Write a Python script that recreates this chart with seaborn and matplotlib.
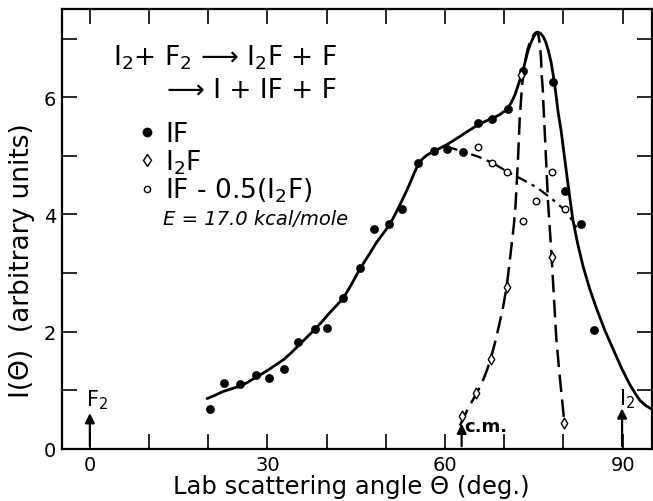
import matplotlib
matplotlib.use("Agg")
import matplotlib.pyplot as plt
from matplotlib.lines import Line2D
import pandas as pd
import seaborn as sns

# measured points (lab angle in deg, signal in arbitrary units)
if_angle = [20.3, 22.7, 25.3, 28.0, 30.3, 32.8, 35.2, 38.0, 40.1, 42.8, 45.6, 48.0, 50.6,
            52.7, 55.5, 58.2, 60.3, 63.1, 65.6, 68.0, 70.6, 73.2, 78.2, 80.3, 83.0, 85.1]
if_signal = [0.69, 1.12, 1.11, 1.26, 1.21, 1.37, 1.83, 2.04, 2.06, 2.57, 3.08, 3.75, 3.83,
             4.10, 4.88, 5.08, 5.11, 5.07, 5.56, 5.63, 5.80, 6.45, 6.26, 4.40, 3.83, 2.03]

i2f_angle = [62.8, 65.3, 67.7, 70.4, 72.9, 78.0, 80.1]
i2f_signal = [0.56, 0.95, 1.54, 2.77, 6.37, 3.28, 0.45]

diff_angle = [65.5, 68.0, 70.5, 73.1, 75.3, 78.1, 80.3]
diff_signal = [5.15, 4.88, 4.72, 3.88, 4.23, 4.72, 4.10]

# hand-drawn fit curves
if_fit_angle = [19.8, 21.0, 22.5, 24.0, 25.3, 26.7, 28.0, 29.2, 30.3, 31.5, 32.8, 34.0, 35.2,
                36.6, 38.0, 39.2, 40.3, 41.5, 42.8, 44.2, 45.6, 47.0, 48.4, 49.5, 50.6, 51.5,
                52.4, 53.3, 54.1, 54.8, 55.5, 56.2, 56.9, 57.6, 58.3, 59.3, 60.3, 61.4, 62.5,
                64.0, 65.6, 66.8, 68.0, 69.2, 70.4, 71.2, 71.8, 72.3, 72.8, 73.2, 73.6, 74.0,
                74.5, 74.9, 75.3, 75.6, 76.1, 76.6, 77.0, 77.4, 77.9, 78.3, 78.7, 79.1, 79.6,
                80.0, 80.4, 80.8, 81.2, 81.6, 82.4, 83.3, 84.4, 85.6, 87.0, 88.4, 89.8, 91.2,
                92.1, 92.9, 93.9, 94.9]
if_fit_signal = [0.86, 0.91, 0.98, 1.03, 1.07, 1.14, 1.22, 1.29, 1.36, 1.44, 1.53, 1.64, 1.76,
                 1.90, 2.04, 2.17, 2.30, 2.43, 2.57, 2.81, 3.07, 3.29, 3.52, 3.67, 3.82, 3.99,
                 4.17, 4.36, 4.54, 4.71, 4.86, 4.95, 5.01, 5.05, 5.08, 5.14, 5.19, 5.26, 5.33,
                 5.43, 5.53, 5.59, 5.64, 5.70, 5.79, 5.91, 6.04, 6.19, 6.34, 6.47, 6.63, 6.79,
                 6.93, 7.02, 7.08, 7.11, 7.09, 7.03, 6.94, 6.81, 6.60, 6.36, 6.07, 5.74, 5.43,
                 5.11, 4.80, 4.49, 4.19, 3.90, 3.50, 3.12, 2.74, 2.39, 2.02, 1.70, 1.38, 1.10,
                 0.95, 0.83, 0.74, 0.68]

i2f_fit_angle = [62.5, 63.2, 63.8, 64.6, 65.3, 66.0, 66.6, 67.2, 67.7, 68.4, 69.1, 69.8, 70.4,
                 70.8, 71.2, 71.6, 71.9, 72.3, 72.6, 73.0, 73.5, 73.9, 74.3, 74.7, 75.0, 75.3,
                 75.6, 75.8, 76.0, 76.2, 76.3, 76.5, 76.6, 76.8, 77.0, 77.2, 77.4, 77.7, 78.0,
                 78.4, 78.8, 79.2, 79.5, 79.8, 80.1]
i2f_fit_signal = [0.40, 0.54, 0.68, 0.82, 0.95, 1.08, 1.22, 1.38, 1.54, 1.80, 2.10, 2.42, 2.77,
                  3.10, 3.45, 3.80, 4.15, 4.90, 5.62, 6.20, 6.59, 6.80, 6.93, 7.02, 7.07, 7.10,
                  7.11, 7.04, 6.90, 6.68, 6.40, 6.14, 5.90, 5.48, 5.05, 4.62, 4.20, 3.74, 3.28,
                  2.56, 1.87, 1.42, 1.10, 0.80, 0.50]

diff_fit_angle = [60.3, 63.0, 65.5, 68.0, 70.5, 73.0, 75.5, 78.0, 80.5, 82.2]
diff_fit_signal = [5.16, 5.07, 4.99, 4.88, 4.73, 4.60, 4.46, 4.27, 4.05, 3.78]

x_ticks = list(range(0, 100, 10))
x_labels = ["0", "", "", "30", "", "", "60", "", "", "90"]
y_ticks = list(range(0, 8))
y_labels = ["0", "", "2", "", "4", "", "6", ""]

df_if = pd.DataFrame({"angle": if_angle, "signal": if_signal})
df_i2f = pd.DataFrame({"angle": i2f_angle, "signal": i2f_signal})
df_diff = pd.DataFrame({"angle": diff_angle, "signal": diff_signal})

sns.set_style("ticks", {"axes.edgecolor": "black", "text.color": "black",
                        "axes.labelcolor": "black", "xtick.color": "black",
                        "ytick.color": "black"})
plt.rcParams["font.family"] = ["DejaVu Sans"]

fig = plt.figure(figsize=(6.53, 5.02), dpi=100)
ax = fig.add_axes([0.095, 0.1036, 0.903, 0.876])

# fitted curves
sns.lineplot(x=if_fit_angle, y=if_fit_signal, sort=False, estimator=None,
             color="black", lw=2.0, ax=ax)
sns.lineplot(x=i2f_fit_angle, y=i2f_fit_signal, sort=False, estimator=None,
             color="black", lw=1.8, linestyle=(0, (7, 3)), ax=ax)
sns.lineplot(x=diff_fit_angle, y=diff_fit_signal, sort=False, estimator=None,
             color="black", lw=1.6, linestyle=(0, (5, 2.5, 1.5, 2.5)), ax=ax)

# data points
sns.scatterplot(data=df_if, x="angle", y="signal", marker="o", s=34,
                color="black", edgecolor="black", ax=ax, zorder=5)
sns.scatterplot(data=df_i2f, x="angle", y="signal", marker="d", s=30,
                color="white", edgecolor="black", linewidth=1.0, ax=ax, zorder=5)
sns.scatterplot(data=df_diff, x="angle", y="signal", marker="o", s=22,
                color="white", edgecolor="black", linewidth=1.0, ax=ax, zorder=5)

ax.set_xlim(-4.7, 94.9)
ax.set_ylim(0, 7.5)
ax.set_xticks(x_ticks)
ax.set_xticklabels(x_labels)
ax.set_yticks(y_ticks)
ax.set_yticklabels(y_labels)
ax.tick_params(direction="in", length=11, width=1.2, top=True, right=True,
               labelsize=14, pad=4, colors="black")
for sp in ax.spines.values():
    sp.set_linewidth(1.6)
    sp.set_color("black")
    sp.set_visible(True)

ax.set_xlabel("Lab scattering angle Θ (deg.)", fontsize=17.5, color="black")
ax.xaxis.set_label_coords(0.49, -0.056)
ax.set_ylabel("I(Θ)  (arbitrary units)", fontsize=19, color="black")
ax.yaxis.set_label_coords(-0.046, 0.43)

# reaction scheme
ax.text(3.9, 6.56, "I$_2$+ F$_2$ ⟶ I$_2$F + F", fontsize=19, va="baseline", ha="left",
        color="black")
ax.text(41.7, 6.0, "⟶ I + IF + F", fontsize=19, va="baseline", ha="right", color="black")
ax.text(12.3, 3.83, "E = 17.0 kcal/mole", fontsize=14, style="italic",
        va="baseline", ha="left", color="black")

handles = [
    Line2D([], [], ls="none", marker="o", ms=6, color="black"),
    Line2D([], [], ls="none", marker="d", ms=6, mfc="white", mec="black", mew=1.0),
    Line2D([], [], ls="none", marker="o", ms=4.5, mfc="white", mec="black", mew=1.0),
]
leg = ax.legend(handles, ["IF", "I$_2$F", "IF - 0.5(I$_2$F)"], loc="upper left",
                bbox_to_anchor=(0.13, 0.745), frameon=False, fontsize=19,
                handlelength=0.6, handletextpad=0.4, labelspacing=0.0,
                borderpad=0.0, borderaxespad=0.0)
for t in leg.get_texts():
    t.set_color("black")

# marker arrows for F2, c.m. and I2 directions
arrow = dict(arrowstyle="-|>", color="black", lw=1.6, mutation_scale=14)
ax.annotate("", xy=(0, 0.66), xytext=(0, 0), arrowprops=arrow)
ax.text(-0.7, 0.74, "F$_2$", fontsize=15, va="baseline", ha="left", color="black")
ax.annotate("", xy=(62.8, 0.48), xytext=(62.8, 0), arrowprops=arrow)
ax.text(63.3, 0.3, "c.m.", fontsize=13, fontweight="bold", va="baseline", ha="left",
        color="black")
ax.annotate("", xy=(89.9, 0.74), xytext=(89.9, 0), arrowprops=arrow)
ax.text(89.3, 0.76, "I$_2$", fontsize=15, va="baseline", ha="left", color="black")

fig.savefig("out.png", dpi=100)
